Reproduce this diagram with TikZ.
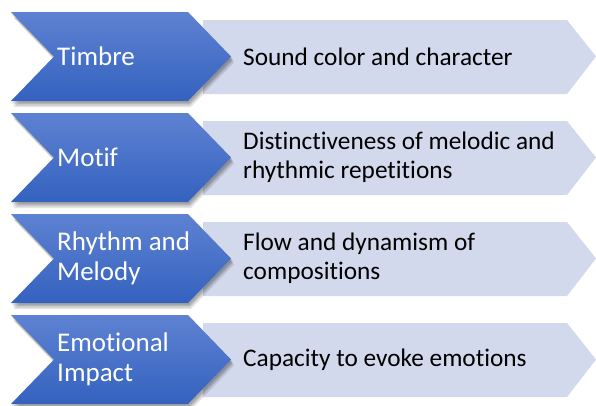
\documentclass[tikz,border=0pt]{standalone}
\usepackage{fontspec}
\setmainfont[Ligatures={NoCommon}]{Carlito}
\usetikzlibrary{shadings}
\definecolor{chevtop}{HTML}{5E82D2}
\definecolor{chevbot}{HTML}{3462BF}
\definecolor{boxfill}{HTML}{D3D9EC}
\tikzset{
  lab/.style={anchor=west, text=white, inner sep=0pt, align=left,
    font=\fontsize{27}{30}\selectfont},
  desc/.style={anchor=west, text=black, inner sep=0pt, align=left,
    font=\fontsize{25.3}{29}\selectfont},
  boxshape/.style={fill=boxfill},
  chevshape/.style={top color=chevtop, bottom color=chevbot},
  shadowshape/.style={fill=black, fill opacity=0.10}
}
\newcommand\myrow[4]{%
  \pgfmathsetmacro\yt{#2}%
  \pgfmathsetmacro\yb{#2+89}%
  \pgfmathsetmacro\ym{#2+44.5}%
  \path[boxshape] (203,\yt+8) -- (567,\yt+8) -- (596,\ym) -- (567,\yb-7) -- (203,\yb-7) -- cycle;
  \foreach \dx/\dy in {1/2,2/3,2/4.5,3/6}{
    \path[shadowshape] (11+\dx,\yt+\dy) -- (188+\dx,\yt+\dy) -- (231+\dx,\ym+\dy) -- (188+\dx,\yb+\dy) -- (11+\dx,\yb+\dy) -- (54+\dx,\ym+\dy) -- cycle;
  }
  \path[chevshape] (11,\yt) -- (188,\yt) -- (231,\ym) -- (188,\yb) -- (11,\yb) -- (54,\ym) -- cycle;
  \node[lab] (#1l) at (57,\ym) {#3};
  \node[desc] (#1d) at (243,\ym) {#4};
}
\begin{document}
\begin{tikzpicture}[x=1pt,y=-1pt]
\useasboundingbox[fill=white] (0,0) rectangle (596,405);
\myrow{timbre}{12}{Timbre}{Sound color and character}
\myrow{motif}{113}{Motif}{Distinctiveness of melodic and\\rhythmic repetitions}
\myrow{rhythm}{214}{Rhythm and\\Melody}{Flow and dynamism of\\compositions}
\myrow{emo}{315}{Emotional\\Impact}{Capacity to evoke emotions}
\end{tikzpicture}
\end{document}
